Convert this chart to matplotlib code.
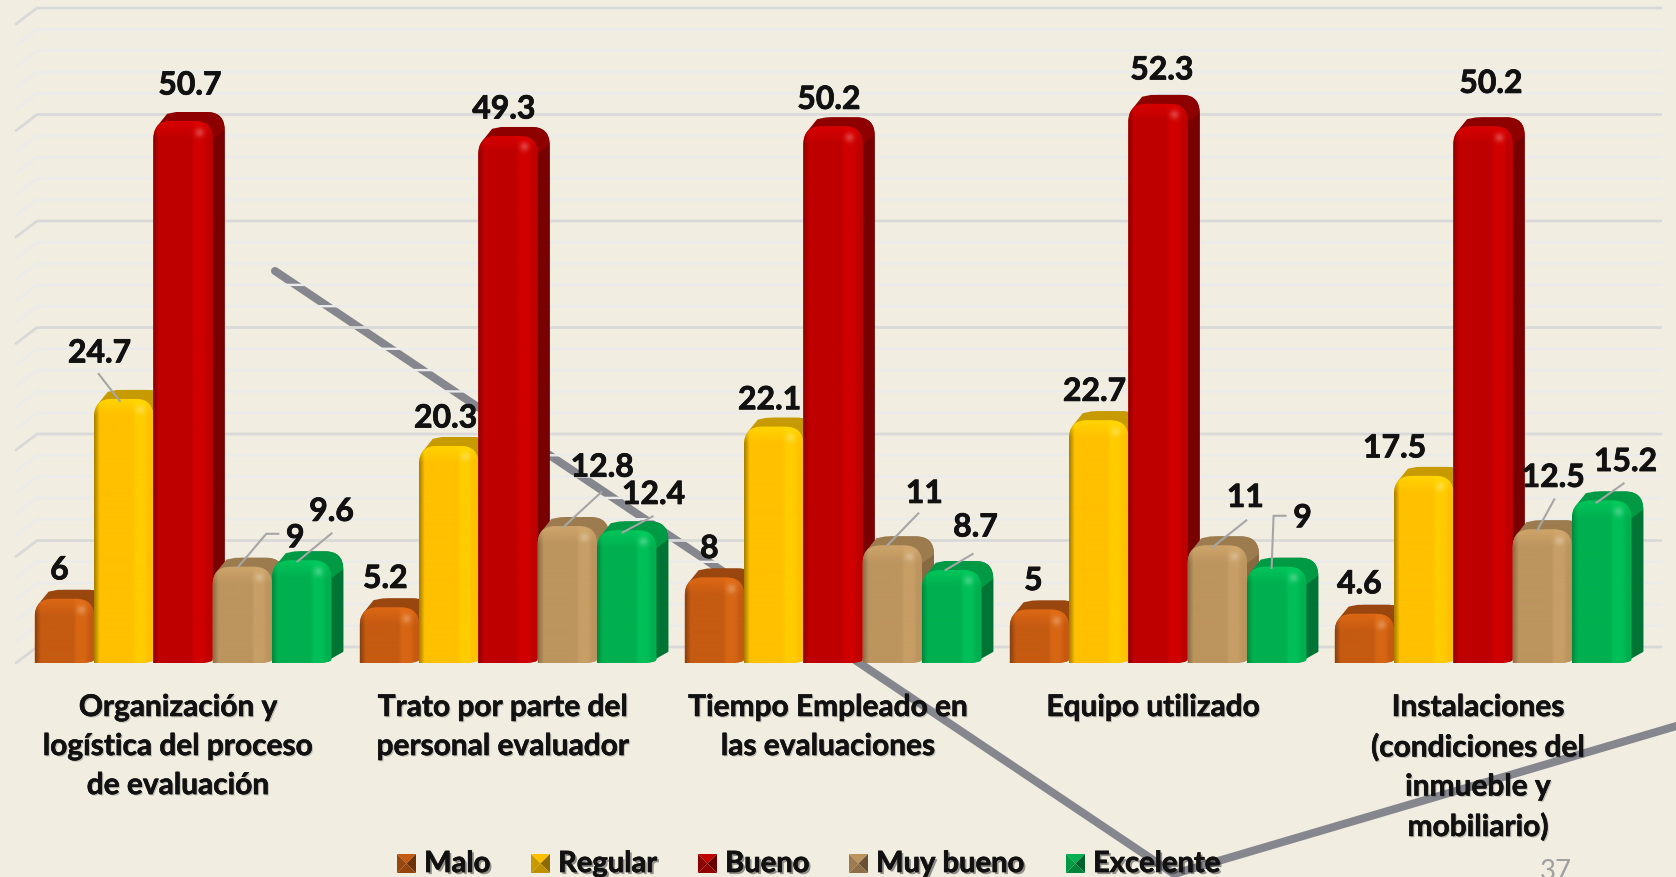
#resultados de la encuesta de evaluacion (barras 3D)

import numpy as np
import matplotlib
matplotlib.use('Agg')
import matplotlib.pyplot as plt
import matplotlib.patheffects as pe
from matplotlib.path import Path
from matplotlib.patches import PathPatch, Polygon

categorias = ['Organización y\nlogística del proceso\nde evaluación',
              'Trato por parte del\npersonal evaluador',
              'Tiempo Empleado en\nlas evaluaciones',
              'Equipo utilizado',
              'Instalaciones\n(condiciones del\ninmueble y\nmobiliario)']
series = ['Malo', 'Regular', 'Bueno', 'Muy bueno', 'Excelente']
malo = [6, 5.2, 8, 5, 4.6]
regular = [24.7, 20.3, 22.1, 22.7, 17.5]
bueno = [50.7, 49.3, 50.2, 52.3, 50.2]
muy_bueno = [9, 12.8, 11, 11, 12.5]
excelente = [9.6, 12.4, 8.7, 9, 15.2]
valores = [malo, regular, bueno, muy_bueno, excelente]
grid_vals = list(range(0, 61, 2))

# colores: borde izq, base, banda clara, arriba, lado
colores = [('#8a4210', '#c55a11', '#d66614', '#9a470f', '#8f420e'),
           ('#a88000', '#ffc000', '#ffcc00', '#c79a00', '#b08800'),
           ('#8c0000', '#bf0000', '#d00000', '#8e0000', '#780000'),
           ('#8e7048', '#bc945e', '#c69e66', '#9c7c4e', '#876a42'),
           ('#008a3e', '#00b050', '#00bf58', '#009a44', '#007434')]

# desplazamiento de las etiquetas respecto a la parte alta de cada barra (px)
offs = [[(-5, -29), (-24, -46), (7, -36), (53, -29), (30, -49)],
        [(-4, -29), (-3, -28), (-4, -27), (35, -59), (27, -36)],
        [(-5, -29), (-4, -27), (-4, -27), (32, -52), (24, -43)],
        [(-6, -29), (-4, -29), (4, -34), (28, -48), (26, -49)],
        [(-5, -30), (-29, -28), (8, -43), (11, -52), (24, -39)]]
# lineas guia (grupo, serie): puntos en px respecto a la barra
guias = {(0, 1): [(-25, -25), (-4, 2)],
         (0, 3): [(36, -33), (24, -33), (-4, 0)],
         (0, 4): [(30, -27), (-4, 1)],
         (1, 3): [(34, -34), (-4, 1)],
         (1, 4): [(26, -14), (-4, 2)],
         (2, 3): [(26, -32), (-5, 0)],
         (2, 4): [(21, -16), (-6, 0)],
         (3, 3): [(29, -25), (-5, 2)],
         (3, 4): [(9, -51), (-3, -51), (-5, 1)],
         (4, 3): [(12, -30), (-5, 1)],
         (4, 4): [(22, -17), (-5, 2)]}

W, H = 1676, 878
X0, Y0 = 183, 664      # categoria 0 y valor 0 en px
SX, SY = 325, 10.69    # px por categoria / px por unidad
BW = 59.3 / SX
DX, DY = 12 / SX, 9 / SY
FONDO = '#f1ede1'
NEGRO = '#111111'

plt.rcParams['font.family'] = ['Lato', 'DejaVu Sans']

fig = plt.figure(figsize=(W / 100, H / 100), dpi=100, facecolor=FONDO)
ax = fig.add_axes([0, 0, 1, 1])
ax.set_axis_off()


def pos(px, py):
    return (px - X0) / SX, (Y0 - py) / SY


def rgb(c):
    return np.array(matplotlib.colors.to_rgb(c))


def contorno(x0, x1, y0, y1):
    rx, ry = 18 / SX, min(18 / SY, (y1 - y0) * 0.5)
    verts = [(x0, y0), (x0, y1 - ry), (x0, y1), (x0 + rx, y1), (x1 - rx, y1),
             (x1, y1), (x1, y1 - ry), (x1, y0 + 3 / SY), (x1 - 2 / SX, y0),
             (x1 - 14 / SX, y0), (x0, y0)]
    codes = [Path.MOVETO, Path.LINETO, Path.CURVE3, Path.CURVE3, Path.LINETO,
             Path.CURVE3, Path.CURVE3, Path.LINETO, Path.CURVE3, Path.CURVE3,
             Path.CLOSEPOLY]
    return Path(verts, codes)


def textura(col, alto):
    # degradado horizontal + bisel arriba + brillo
    izq, base, claro = rgb(col[0]), rgb(col[1]), rgb(col[2])
    n = 60
    m = max(int(alto), 4)
    t = np.linspace(0, 1, n)
    fila = np.zeros((n, 3))
    for k in range(3):
        fila[:, k] = np.interp(t, [0, 0.09, 0.64, 0.70, 0.84, 0.92, 1],
                               [izq[k], base[k], base[k], claro[k], claro[k], base[k], base[k]])
    img = np.repeat(fila[None, :, :], m, axis=0)
    yy, xx = np.mgrid[0:m, 0:n]
    bisel = np.clip(1 - yy / 17, 0, 1)[..., None]
    img = img + (np.clip(claro * 1.08, 0, 1) - img) * bisel * 0.7
    spot = np.exp(-(((xx - 46) / 4.5) ** 2 + ((yy - 11) / 4.5) ** 2))[..., None]
    img = img + (1 - img) * spot * 0.24
    return np.clip(img, 0, 1)


def letra(ancho=0.5):
    return pe.withStroke(linewidth=ancho, foreground=NEGRO)


# linea gris decorativa, queda detras del grafico
linea = [pos(275, 272), pos(1174, 875), pos(1690, 723)]
ax.plot(*zip(*linea), color='#86868e', lw=5.8, solid_capstyle='round',
        solid_joinstyle='miter', zorder=1)

# rejilla de la pared del fondo
for v in grid_vals:
    y0 = v * 10.65 / SY
    y = (v * 10.65 + 16) / SY
    c, lw = ('#d9d9d9', 2.0) if v % 10 == 0 else ('#ebebeb', 1.7)
    ax.plot([(16 - X0) / SX, (37 - X0) / SX, (1661 - X0) / SX], [y0, y, y],
            color=c, lw=lw, solid_capstyle='round', zorder=2)

# barras
z = 3
for i in range(len(categorias)):
    for j in range(len(series)):
        v = valores[j][i]
        col = colores[j]
        x0 = i + (j - 2.5) * BW
        x1 = x0 + BW
        rx, ry = 18 / SX, 18 / SY
        atras = contorno(x0 + DX, x1 + DX, DY, v + DY)
        ax.add_patch(PathPatch(atras, fc=col[4], ec='none', zorder=z))
        ax.add_patch(Polygon([(x1 - 2 / SX, 0.3), (x1 + DX, DY + 0.2), (x1 + DX, v + DY - ry),
                              (x1 - 2 / SX, v - ry)], fc=col[4], ec='none', zorder=z))
        # cara de arriba con las esquinas redondeadas
        arriba = Path([(x0 + 0.2 * rx, v - 0.3 * ry), (x0 + DX + 0.1 * rx, v + DY - 0.1 * ry),
                       (x0 + DX + 0.6 * rx, v + DY), (x1 + DX - rx, v + DY),
                       (x1 + DX, v + DY), (x1 + DX, v + DY - ry),
                       (x1, v - ry), (x0 + 0.2 * rx, v - 0.3 * ry)],
                      [Path.MOVETO, Path.LINETO, Path.LINETO, Path.LINETO,
                       Path.CURVE3, Path.CURVE3, Path.LINETO, Path.CLOSEPOLY])
        ax.add_patch(PathPatch(arriba, fc=col[3], ec='none', zorder=z))
        frente = PathPatch(contorno(x0, x1, 0, v), fc=col[1], ec='none', zorder=z)
        ax.add_patch(frente)
        im = ax.imshow(textura(col, v * SY), extent=(x0, x1, 0, v), origin='upper',
                       aspect='auto', interpolation='bilinear', zorder=z)
        im.set_clip_path(frente)
        z += 1

# lineas guia y etiquetas de valor
for i in range(len(categorias)):
    for j in range(len(series)):
        v = valores[j][i]
        xc = i + (j - 2) * BW
        if (i, j) in guias:
            g = guias[(i, j)]
            ax.plot([xc + p[0] / SX for p in g], [v - p[1] / SY for p in g],
                    color='#a6a6a6', lw=1.5, zorder=z)
        dx, dy = offs[i][j]
        ax.annotate(f'{v:g}', xy=(xc, v), xytext=(dx, -dy), textcoords='offset pixels',
                    ha='center', va='center', fontsize=23, fontweight='bold',
                    color=NEGRO, zorder=z + 1, path_effects=[letra(0.6)])

# etiquetas de categoria
sombra = [pe.SimplePatchShadow(offset=(1, -1), shadow_rgbFace='k', alpha=0.2), letra(0.4)]
for i, cat in enumerate(categorias):
    x, y = pos(X0 - 5 + SX * i, 694)
    ax.text(x, y, cat, ha='center', va='top', fontsize=21.5, fontweight='bold',
            color=NEGRO, linespacing=1.48, zorder=z + 1, path_effects=sombra)

# leyenda
key_x = [397, 531, 698, 849, 1066]
sombra2 = [pe.SimplePatchShadow(offset=(1.5, -1.5), shadow_rgbFace='k', alpha=0.4), letra(0.5)]
for j, nom in enumerate(series):
    col = colores[j]
    a, b = key_x[j], key_x[j] + 19
    arr, aba = 855, 874
    cx, cy = (a + b) / 2, (arr + aba) / 2
    oscuro = rgb(col[1]) * 0.55
    caras = [([(a, arr), (b, arr), (cx, cy)], col[1]),
             ([(a, arr), (a, aba), (cx, cy)], col[3]),
             ([(b, arr), (b, aba), (cx, cy)], oscuro),
             ([(a, aba), (b, aba), (cx, cy)], rgb(col[1]) * 0.75)]
    for pts, c in caras:
        ax.add_patch(Polygon([pos(*p) for p in pts], fc=c, ec='none', zorder=z + 2))
    x, y = pos(b + 8, 865)
    ax.text(x, y, nom, ha='left', va='center', fontsize=21, fontweight='bold',
            color=NEGRO, zorder=z + 3, path_effects=sombra2)

# numero de diapositiva
x, y = pos(1556, 859)
ax.text(x, y, '37', ha='center', va='top', fontsize=20, color='#a0a0a0', zorder=z + 1)

ax.set_xlim(-X0 / SX, (W - X0) / SX)
ax.set_ylim(-(H - Y0) / SY, Y0 / SY)

fig.savefig('out.png', dpi=100, facecolor=FONDO)
